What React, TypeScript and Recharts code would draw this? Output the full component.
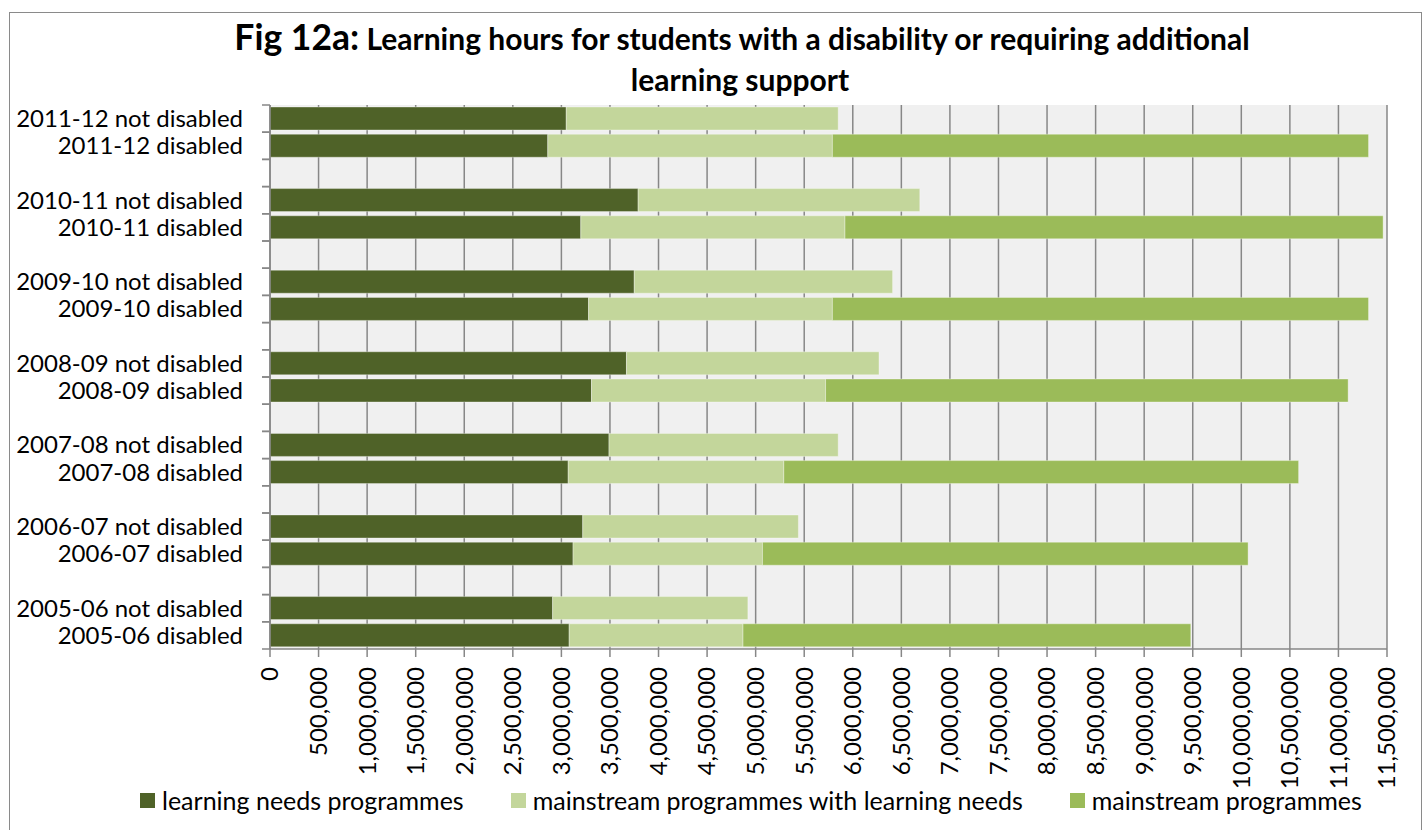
import React from "react";
import { BarChart, Bar, XAxis, YAxis, CartesianGrid, Legend } from "recharts";

const categories = [
  "2011-12 not disabled",
  "2011-12 disabled",
  "",
  "2010-11 not disabled",
  "2010-11 disabled",
  "",
  "2009-10 not disabled",
  "2009-10 disabled",
  "",
  "2008-09 not disabled",
  "2008-09 disabled",
  "",
  "2007-08 not disabled",
  "2007-08 disabled",
  "",
  "2006-07 not disabled",
  "2006-07 disabled",
  "",
  "2005-06 not disabled",
  "2005-06 disabled",
];

const learningNeedsProgrammes = [
  3050000, 2860000, null,
  3790000, 3200000, null,
  3750000, 3280000, null,
  3670000, 3310000, null,
  3490000, 3070000, null,
  3220000, 3120000, null,
  2910000, 3080000,
];

const mainstreamWithLearningNeeds = [
  2800000, 2930000, null,
  2900000, 2720000, null,
  2660000, 2510000, null,
  2600000, 2410000, null,
  2360000, 2220000, null,
  2220000, 1950000, null,
  2010000, 1790000,
];

const mainstreamProgrammes = [
  null, 5520000, null,
  null, 5540000, null,
  null, 5520000, null,
  null, 5380000, null,
  null, 5300000, null,
  null, 5000000, null,
  null, 4610000,
];

const xTicks = [
  0, 500000, 1000000, 1500000, 2000000, 2500000, 3000000, 3500000, 4000000,
  4500000, 5000000, 5500000, 6000000, 6500000, 7000000, 7500000, 8000000,
  8500000, 9000000, 9500000, 10000000, 10500000, 11000000, 11500000,
];

const seriesNames = [
  "learning needs programmes",
  "mainstream programmes with learning needs",
  "mainstream programmes",
];
const seriesColors = ["#4f6228", "#c3d69b", "#9bbb59"];

const titleLead = "Fig 12a:";
const titleLine1 = "Learning hours for students with a disability or requiring additional";
const titleLine2 = "learning support";

const data = categories.map((label, i) => ({
  label,
  lnp: learningNeedsProgrammes[i],
  mwln: mainstreamWithLearningNeeds[i],
  mp: mainstreamProgrammes[i],
}));

const FONT = "Lato, 'Open Sans', sans-serif";
const GRID = "#878787";
const FS = 24;

const YTick = (props: any) => {
  const { x, y, payload } = props;
  const half = payload && typeof payload.offset === "number" ? payload.offset : 13.6;
  return (
    <g>
      <line x1={x - 8} x2={x} y1={y - half} y2={y - half} stroke={GRID} strokeWidth={1.5} />
      <line x1={x - 8} x2={x} y1={y + half} y2={y + half} stroke={GRID} strokeWidth={1.5} />
      {payload && payload.value ? (
        <text x={x - 27} y={y} dy="0.35em" textAnchor="end" fontSize={FS} fill="#000" fontFamily={FONT}>
          {payload.value}
        </text>
      ) : null}
    </g>
  );
};

const XTick = (props: any) => {
  const { x, y, payload } = props;
  const label = Number(payload.value).toLocaleString("en-US");
  return (
    <text
      x={x}
      y={y}
      dy="0.35em"
      transform={`rotate(-90, ${x}, ${y})`}
      textAnchor="end"
      fontSize={FS}
      fill="#000"
      fontFamily={FONT}
    >
      {label}
    </text>
  );
};

const LegendContent = (props: any) => {
  const payload = [...(props.payload || [])].sort(
    (a: any, b: any) => seriesNames.indexOf(a.value) - seriesNames.indexOf(b.value)
  );
  return (
    <div style={{ display: "flex", height: 26, alignItems: "center", fontFamily: FONT }}>
      {payload.map((p: any, i: number) => (
        <div key={i} style={{ display: "flex", alignItems: "center", marginLeft: i ? 47 : 0 }}>
          <span style={{ display: "inline-block", width: 15, height: 15, background: p.color, marginRight: 7 }} />
          <span style={{ fontSize: 25, lineHeight: "26px", color: "#000", whiteSpace: "nowrap" }}>{p.value}</span>
        </div>
      ))}
    </div>
  );
};

export default function App() {
  return (
    <div style={{ position: "relative", width: 1428, height: 830, background: "#fff", overflow: "hidden" }}>
      <style>{"body{margin:0}"}</style>
      <div
        style={{
          position: "absolute",
          left: 9,
          top: 12,
          width: 1413,
          height: 840,
          border: "1.5px solid #8a8a8a",
          boxSizing: "border-box",
        }}
      />
      <svg
        width={1428}
        height={110}
        style={{ position: "absolute", left: 0, top: 0 }}
      >
        <text x={742} y={50} textAnchor="middle" fontFamily={FONT} fontWeight={700} fill="#000">
          <tspan fontSize={35.5}>{titleLead}</tspan>
          <tspan fontSize={30}>{" " + titleLine1}</tspan>
        </text>
        <text x={740} y={91} textAnchor="middle" fontFamily={FONT} fontWeight={700} fontSize={30} fill="#000">
          {titleLine2}
        </text>
      </svg>
      <div style={{ position: "absolute", left: 0, top: 0 }}>
        <BarChart
          width={1428}
          height={830}
          data={data}
          layout="vertical"
          margin={{ top: 105, right: 41, bottom: 35, left: 0 }}
          barSize={23}
        >
          <CartesianGrid horizontal={false} vertical={true} stroke={GRID} strokeWidth={1.5} fill="#f0f0f0" />
          <XAxis
            type="number"
            domain={[0, 11500000]}
            ticks={xTicks}
            interval={0}
            allowDataOverflow
            height={120}
            tickSize={8}
            tickMargin={10}
            stroke={GRID}
            strokeWidth={1.5}
            tick={<XTick />}
          />
          <YAxis
            type="category"
            dataKey="label"
            width={270}
            interval={0}
            tickSize={0}
            tickMargin={0}
            tickLine={false}
            stroke={GRID}
            strokeWidth={1.5}
            tick={<YTick />}
          />
          <Legend
            verticalAlign="bottom"
            content={<LegendContent />}
            wrapperStyle={{ left: 140, top: 787, bottom: "auto", width: 1300 }}
          />
          <Bar dataKey="lnp" name={seriesNames[0]} stackId="a" fill={seriesColors[0]} stroke="#ffffff" strokeOpacity={0.35} strokeWidth={1} isAnimationActive={false} />
          <Bar dataKey="mwln" name={seriesNames[1]} stackId="a" fill={seriesColors[1]} stroke="#ffffff" strokeOpacity={0.35} strokeWidth={1} isAnimationActive={false} />
          <Bar dataKey="mp" name={seriesNames[2]} stackId="a" fill={seriesColors[2]} stroke="#ffffff" strokeOpacity={0.35} strokeWidth={1} isAnimationActive={false} />
        </BarChart>
      </div>
    </div>
  );
}
